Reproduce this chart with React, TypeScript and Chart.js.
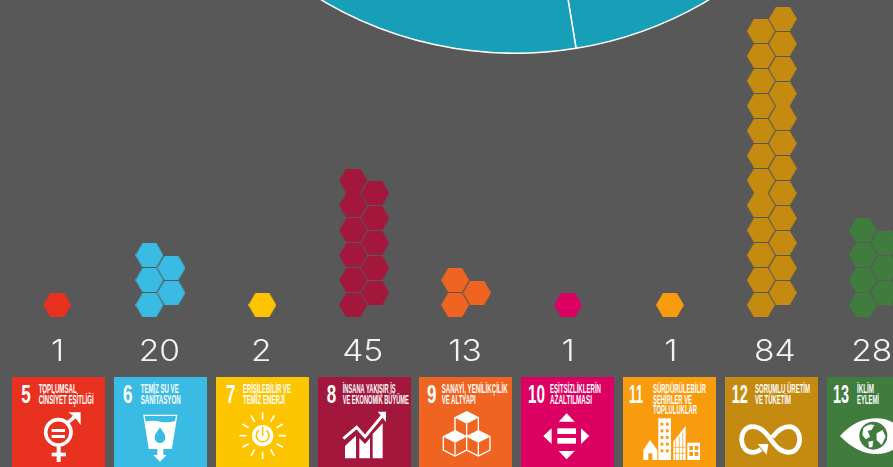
import React, { useEffect, useRef } from "react";
import { Chart, registerables } from "chart.js";

Chart.register(...registerables);

// ---- data ----
const goalNumbers = ["5", "6", "7", "8", "9", "10", "11", "12", "13"];
const goalValues = [1, 20, 2, 45, 13, 1, 1, 84, 28];
const hexagonCounts = [1, 5, 1, 11, 3, 1, 1, 24, 7];
const goalColors = ["#E8311F", "#3ABBE3", "#FDC500", "#A3173C", "#EE6420", "#DC0063", "#F89C0E", "#C58B10", "#3F7C3E"];
const goalTitles = [
  ["TOPLUMSAL", "CİNSİYET EŞİTLİĞİ"],
  ["TEMİZ SU VE", "SANİTASYON"],
  ["ERİŞİLEBİLİR VE", "TEMİZ ENERJİ"],
  ["İNSANA YAKIŞIR İŞ", "VE EKONOMİK BÜYÜME"],
  ["SANAYİ, YENİLİKÇİLİK", "VE ALTYAPI"],
  ["EŞİTSİZLİKLERİN", "AZALTILMASI"],
  ["SÜRDÜRÜLEBİLİR", "ŞEHİRLER VE", "TOPLULUKLAR"],
  ["SORUMLU ÜRETİM", "VE TÜKETİM"],
  ["İKLİM", "EYLEMİ"],
];
const pieValues = [47.42, 52.58];
const pieColors = ["#179FB8", "#179FB8"];

// ---- text fitting on the tiles ----
const titleWidths = [[38, 55], [38, 40], [48, 42], [53, 66], [66, 34], [51, 42], [53, 39, 44], [55, 36], [17, 22]];
const titleLefts = [38.7, 140.7, 243, 342.7, 441.7, 550, 653, 755, 857];
const numberLefts = [21.3, 123, 226, 326.7, 427, 528, 629, 731.7, 833];
const numberWidths = [9.5, 9.5, 9.5, 9.5, 9.5, 17, 14, 16, 16];
// small horizontal offsets (px) of the value labels and (category units) of the hexagon groups
const labelShifts = [-1, -1, -1, -1.5, -1, 0, 1, 3, -2];
const groupShifts = [-0.012, 0, 0, 0, 0, 0, 0, 0, 0];

const BG = "#585858";
const W = 893;
const H = 467;

function hexagonSprite(color: string) {
  const w = 28, h = 24;
  const c = document.createElement("canvas");
  c.width = w;
  c.height = h;
  const g = c.getContext("2d")!;
  g.fillStyle = color;
  g.beginPath();
  g.moveTo(0, h / 2);
  g.lineTo(w / 4, 0);
  g.lineTo((3 * w) / 4, 0);
  g.lineTo(w, h / 2);
  g.lineTo((3 * w) / 4, h);
  g.lineTo(w / 4, h);
  g.closePath();
  g.fill();
  return c;
}

function hexagonPoints(goalIndex: number, count: number) {
  const pts: { x: number; y: number }[] = [];
  for (let k = 0; k < count; k++) {
    const col = k % 2;
    const row = Math.floor(k / 2);
    const dx = count === 1 ? 0 : col ? 0.108 : -0.108;
    pts.push({ x: goalIndex + groupShifts[goalIndex] + dx, y: row + (col ? 0.49 : 0) });
  }
  return pts;
}

const valueLabels = {
  id: "valueLabels",
  afterDatasetsDraw(chart: any) {
    const { ctx, scales } = chart;
    goalValues.forEach((v, i) => {
      ctx.save();
      ctx.translate(scales.x.getPixelForValue(i) + labelShifts[i], scales.y.getPixelForValue(-2.26));
      ctx.scale(1.12, 1);
      ctx.fillStyle = "#F2F2F2";
      ctx.font = "300 30px Inter, Lato, sans-serif";
      ctx.textAlign = "center";
      ctx.textBaseline = "alphabetic";
      ctx.fillText(String(v), 0, 0);
      ctx.restore();
    });
  },
};

function Icon({ index }: { index: number }) {
  const s = { fill: "none", stroke: "#fff" };
  const bg = goalColors[index];
  switch (index) {
    case 0:
      return (
        <g transform="translate(0,370) scale(0.3333)">
          <circle cx={175} cy={187} r={38} {...s} strokeWidth={11} />
          <rect x={155} y={177} width={40} height={9} fill="#fff" />
          <rect x={155} y={195} width={40} height={9} fill="#fff" />
          <line x1={203} y1={158} x2={232} y2={134} {...s} strokeWidth={11} />
          <polygon points="205,127 242,127 242,165 231,150 220,138" fill="#fff" />
          <rect x={170} y={228} width={12} height={48} fill="#fff" />
          <rect x={155} y={248} width={43} height={11} fill="#fff" />
        </g>
      );
    case 1:
      return (
        <g transform="translate(0,370) scale(0.3333)">
          <polygon points="432,136 530,136 514,235 448,235" {...s} strokeWidth={4} />
          <path d="M436,155 Q460,150 480,155 Q505,160 527,152 L514,235 L448,235 Z" fill="#fff" />
          <path d="M480,172 C490,188 496,192 496,203 A16,16 0 0 1 464,203 C464,192 470,188 480,172Z" fill={bg} />
          <rect x={472} y={235} width={18} height={22} fill="#fff" />
          <polygon points="460,255 500,255 480,275" fill="#fff" />
        </g>
      );
    case 2: {
      const rays = [0, 30, 60, 90, 120, 150, 180, 210, 240, 270, 300, 330];
      return (
        <g transform="translate(0,370) scale(0.3333)">
          {rays.map((a) => {
            const r = (a * Math.PI) / 180;
            return (
              <line key={a} x1={788 + 48 * Math.cos(r)} y1={197 + 48 * Math.sin(r)} x2={788 + 70 * Math.cos(r)} y2={197 + 70 * Math.sin(r)} {...s} strokeWidth={5} />
            );
          })}
          <circle cx={788} cy={197} r={32} fill="#fff" />
          <path d="M777,181 A19,19 0 1 0 799,181" fill="none" stroke={bg} strokeWidth={5} />
          <line x1={788} y1={170} x2={788} y2={197} stroke={bg} strokeWidth={5} />
        </g>
      );
    }
    case 3:
      return (
        <g transform="translate(310,370) scale(0.3333)">
          <polygon points="105,265 105,228 138,197 138,265" fill="#fff" />
          <polygon points="148,265 148,205 165,222 180,205 180,265" fill="#fff" />
          <polygon points="188,265 188,192 218,160 218,265" fill="#fff" />
          <polyline points="100,206 140,172 165,200 218,136" {...s} strokeWidth={9} />
          <polygon points="203,125 228,125 228,156" fill="#fff" />
        </g>
      );
    case 4: {
      const cube = (cx: number, y: number) => (
        <g key={cx + "-" + y}>
          <polygon points={`${cx},${y} ${cx + 35},${y + 18} ${cx + 35},${y + 58} ${cx},${y + 76} ${cx - 35},${y + 58} ${cx - 35},${y + 18}`} fill={bg} stroke="#fff" strokeWidth={4} />
          <polygon points={`${cx},${y} ${cx + 35},${y + 18} ${cx},${y + 36} ${cx - 35},${y + 18}`} fill="#fff" />
          <line x1={cx} y1={y + 36} x2={cx} y2={y + 76} stroke="#fff" strokeWidth={4} />
        </g>
      );
      return (
        <g transform="translate(310,370) scale(0.3333)">
          {cube(470, 125)}
          {cube(435, 182)}
          {cube(505, 182)}
        </g>
      );
    }
    case 5:
      return (
        <g transform="translate(310,370) scale(0.3333)" fill="#fff">
          <polygon points="770,130 746,155 794,155" />
          <polygon points="746,243 794,243 770,268" />
          <polygon points="700,198 725,175 725,222" />
          <polygon points="838,198 813,175 813,222" />
          <rect x={742} y={175} width={56} height={17} />
          <rect x={742} y={204} width={56} height={17} />
        </g>
      );
    case 6: {
      const tall = [158, 178, 198, 218, 238];
      const shortRows = [228, 246];
      return (
        <g transform="translate(615,370) scale(0.3333)">
          <polygon points="85,240 105,210 127,240" fill="#fff" />
          <rect x={85} y={240} width={42} height={30} fill="#fff" />
          <rect x={100} y={250} width={12} height={20} fill={bg} />
          <rect x={130} y={145} width={38} height={125} fill="#fff" />
          {tall.map((y) => (
            <g key={y}>
              <rect x={137} y={y} width={8} height={9} fill={bg} />
              <rect x={153} y={y} width={8} height={9} fill={bg} />
            </g>
          ))}
          <polygon points="175,270 175,215 212,168 212,270" fill="#fff" />
          <line x1={182} y1={212} x2={182} y2={270} stroke={bg} strokeWidth={2} />
          <line x1={193} y1={200} x2={193} y2={270} stroke={bg} strokeWidth={2} />
          <line x1={203} y1={188} x2={203} y2={270} stroke={bg} strokeWidth={2} />
          <line x1={175} y1={232} x2={212} y2={232} stroke={bg} strokeWidth={2} />
          <line x1={175} y1={250} x2={212} y2={250} stroke={bg} strokeWidth={2} />
          <rect x={217} y={218} width={38} height={52} fill="#fff" />
          {shortRows.map((y) => (
            <g key={y}>
              <rect x={223} y={y} width={11} height={12} fill={bg} />
              <rect x={239} y={y} width={11} height={12} fill={bg} />
            </g>
          ))}
        </g>
      );
    }
    case 7:
      return (
        <g transform="translate(615,370) scale(0.3333)">
          <path
            d="M438,238 C430,244 420,247 412,247 C392,247 380,228 380,208 C380,188 392,170 412,170 C440,170 455,192 467,208 C480,225 495,247 522,247 C542,247 554,228 554,208 C554,188 542,170 522,170 C495,170 480,192 472,202"
            {...s}
            strokeWidth={14}
          />
          <polygon points="428,222 460,222 455,254" fill="#fff" />
        </g>
      );
    default:
      return (
        <g transform="translate(615,370) scale(0.3333)">
          <path d="M675,198 C710,160 745,145 785,145 C825,145 860,170 885,198 C860,228 825,252 785,252 C745,252 710,235 675,198Z" fill="#fff" />
          <circle cx={775} cy={197} r={42} fill={bg} />
          <path d="M745,175 Q760,160 778,165 L770,180 L758,182 L765,200 L752,208 L742,195Z" fill="#fff" />
          <path d="M785,190 L803,180 L812,200 L800,225 L785,210Z" fill="#fff" />
          <path d="M760,215 L775,212 L772,232 L762,232Z" fill="#fff" />
        </g>
      );
  }
}

export default function App() {
  const pieRef = useRef<HTMLCanvasElement>(null);
  const hexRef = useRef<HTMLCanvasElement>(null);

  useEffect(() => {
    const pie = new Chart(pieRef.current!, {
      type: "pie",
      data: {
        datasets: [{ data: pieValues, backgroundColor: pieColors, borderColor: "#ffffff", borderWidth: 1.5 }],
      },
      options: {
        responsive: false,
        animation: false,
        events: [],
        layout: { padding: 0 },
        plugins: { legend: { display: false }, tooltip: { enabled: false } },
      },
    });
    const hex = new Chart(hexRef.current!, {
      type: "scatter",
      data: {
        datasets: goalNumbers.map((g, i) => ({
          label: g,
          data: hexagonPoints(i, hexagonCounts[i]),
          pointStyle: hexagonSprite(goalColors[i]) as any,
          pointRadius: 14,
          backgroundColor: goalColors[i],
        })),
      },
      options: {
        responsive: false,
        animation: false,
        events: [],
        layout: { padding: 0, autoPadding: false },
        plugins: { legend: { display: false }, tooltip: { enabled: false } },
        scales: {
          x: { type: "linear", display: false, min: -0.5741, max: 8.189 },
          y: { type: "linear", display: false, min: -6.506, max: 12.249 },
        },
      },
      plugins: [valueLabels],
    });
    return () => {
      pie.destroy();
      hex.destroy();
    };
  }, []);

  return (
    <div style={{ position: "fixed", left: 0, top: 0, width: W, height: H, overflow: "hidden", background: BG }}>
      <canvas ref={pieRef} width={758} height={758} style={{ position: "absolute", left: 136, top: -704, width: 758, height: 758 }} />
      <canvas ref={hexRef} width={W} height={H} style={{ position: "absolute", left: 0, top: 0, width: W, height: H }} />
      <svg width={W} height={H} style={{ position: "absolute", left: 0, top: 0 }}>
        {goalNumbers.map((n, i) => (
          <g key={n}>
            <rect x={Math.round(11.8 + 101.9 * i)} y={377} width={93} height={90} fill={goalColors[i]} />
            <text
              x={numberLefts[i]}
              y={403.3}
              fontFamily="'Liberation Sans Narrow', sans-serif"
              fontWeight={700}
              fontSize={26}
              fill="#fff"
              textLength={numberWidths[i]}
              lengthAdjust="spacingAndGlyphs"
            >
              {n}
            </text>
            {goalTitles[i].map((line, j) => (
              <text
                key={j}
                x={titleLefts[i]}
                y={393 + 10.5 * j}
                fontFamily="'Liberation Sans Narrow', sans-serif"
                fontWeight={700}
                fontSize={12}
                fill="#fff"
                textLength={titleWidths[i][j]}
                lengthAdjust="spacingAndGlyphs"
              >
                {line}
              </text>
            ))}
            <Icon index={i} />
          </g>
        ))}
      </svg>
    </div>
  );
}
